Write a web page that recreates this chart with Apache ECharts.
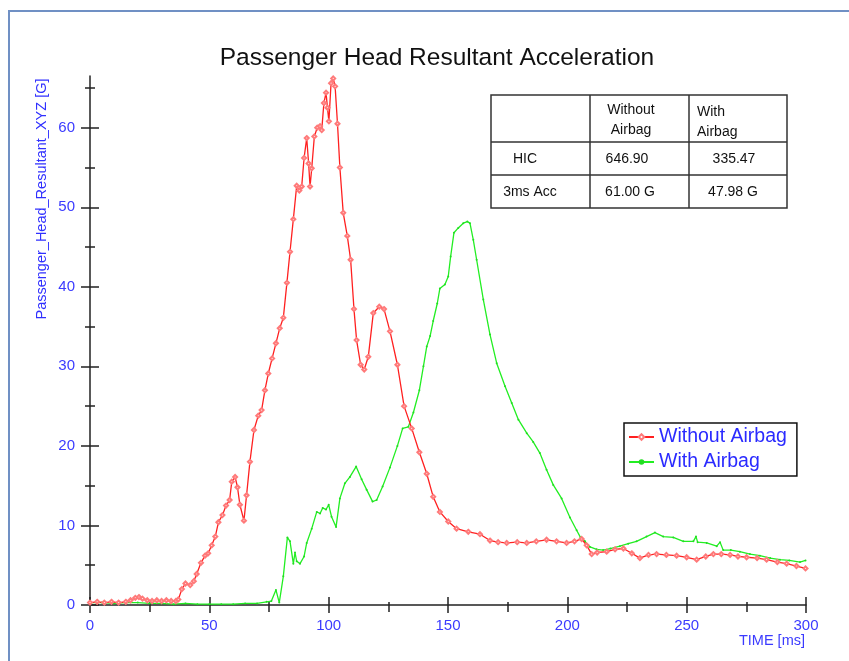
<!DOCTYPE html>
<html><head><meta charset="utf-8">
<script src="https://cdn.jsdelivr.net/npm/echarts@6/dist/echarts.min.js"></script>
<style>html,body{margin:0;padding:0;background:#fff}#c{width:849px;height:661px}</style>
</head><body><div id="c"></div>
<script>
const seriesNames = ['Without Airbag', 'With Airbag'];
const withoutAirbag = [[0,0.3],[3,0.4],[6,0.3],[9,0.4],[12,0.3],[15,0.4],[17,0.6],[19,0.9],[20.5,1.0],[22,0.8],[24,0.6],[26,0.5],[28,0.6],[30,0.5],[32,0.6],[34,0.5],[36,0.5],[37,0.7],[38.5,2.0],[40,2.7],[42,2.5],[43.5,3.0],[44.7,3.9],[46.5,5.3],[48.2,6.2],[49.5,6.5],[51,7.5],[52.5,8.6],[53.8,10.4],[55.5,11.3],[57,12.5],[58.5,13.2],[59.4,15.5],[60.8,16.1],[61.8,14.8],[62.8,12.6],[64.5,10.6],[65.6,13.8],[67,18.0],[68.7,22.0],[70.5,23.8],[71.9,24.5],[73.3,27.0],[74.7,29.1],[76.3,31.0],[77.9,32.9],[79.5,34.8],[81,36.1],[82.5,40.5],[83.8,44.4],[85.2,48.5],[86.6,52.7],[87.7,52.1],[88.7,52.6],[89.7,56.2],[90.8,58.7],[91.6,55.5],[92.2,52.6],[92.9,54.9],[94,58.9],[95.2,60.0],[96.4,60.2],[97.1,59.7],[98,63.1],[98.9,64.4],[99.5,62.5],[100.1,60.8],[101,65.6],[101.9,66.2],[102.7,65.2],[103.7,60.5],[104.7,55.0],[106.1,49.3],[107.8,46.4],[109.2,43.4],[110.6,37.2],[111.7,33.3],[113.4,30.2],[114.9,29.6],[116.6,31.2],[118.7,36.7],[121.2,37.5],[123.2,37.2],[125.7,34.4],[128.8,30.2],[131.6,25.0],[134.8,22.2],[138,19.2],[141.1,16.5],[143.8,13.6],[146.6,11.7],[150.1,10.5],[153.6,9.6],[158.5,9.2],[163.4,8.9],[167.6,8.1],[171,7.9],[174.6,7.8],[179,7.9],[183,7.8],[187,8.0],[191.3,8.2],[195.5,8.0],[199.7,7.8],[203,8.0],[206,8.3],[208.1,7.5],[210.2,6.4],[212.5,6.6],[216.5,6.7],[220,7.0],[223.5,7.1],[227,6.5],[230.4,5.9],[234,6.3],[237.4,6.4],[241.5,6.3],[245.8,6.2],[250,6.0],[254.2,5.7],[258,6.1],[261.2,6.4],[264.5,6.4],[268.2,6.3],[271.5,6.1],[275.1,6.0],[279.5,5.9],[283.5,5.7],[288,5.4],[291.9,5.2],[296,4.9],[299.8,4.6]];
const withAirbag = [[0,0.3],[5,0.3],[10,0.2],[15,0.3],[20,0.3],[25,0.2],[30,0.2],[35,0.1],[40,0.2],[45,0.1],[50,0.1],[55,0.1],[60,0.1],[65,0.2],[70,0.2],[74,0.4],[76,0.5],[77.9,1.9],[79.3,0.3],[81,3.6],[82.7,8.5],[83.8,8.0],[85.2,5.2],[85.9,6.6],[86.6,5.5],[88,5.2],[89.7,6.1],[90.8,7.8],[92.9,9.6],[95,11.7],[96.4,11.5],[97.5,12.2],[98.9,12.0],[100,12.6],[101.2,11.1],[103.1,9.8],[104.7,13.4],[106.8,15.3],[108.9,16.1],[111.5,17.4],[113.8,15.8],[115.9,14.5],[118.4,13.0],[120.1,13.2],[122.6,14.9],[125.7,17.3],[128.8,20.0],[131,22.2],[133.4,22.4],[135.5,24.2],[138,27.0],[139.7,30.0],[141.1,32.5],[142.5,33.8],[143.8,35.7],[145.5,37.9],[146.6,39.8],[148.7,40.3],[150.1,41.3],[151.1,43.8],[152.5,46.8],[154.3,47.4],[156.4,48.0],[158.1,48.2],[159.2,48.0],[160.6,45.9],[162,43.4],[164.8,38.4],[167.6,34.0],[170.4,30.4],[173.9,27.5],[176.7,25.4],[179.5,23.3],[183,21.6],[185.7,20.5],[188.5,19.1],[191.3,17.0],[194.1,15.1],[197.6,13.4],[201.1,11.0],[203.9,9.4],[205.5,8.5],[207.4,8.0],[209.5,7.3],[212.3,7.0],[215,6.9],[218,7.1],[222,7.4],[225.5,7.7],[229,8.0],[233.2,8.6],[236.7,9.1],[240.2,8.6],[244.4,8.5],[248.6,8.0],[252.8,8.0],[253.9,8.6],[254.6,7.9],[258.4,7.8],[262.6,7.4],[264,7.9],[265.3,6.9],[268.5,6.9],[272.3,6.7],[276.5,6.4],[280.7,6.2],[285,5.9],[289.1,5.7],[293,5.6],[297.5,5.4],[299.8,5.6]];
const xMajorTicks = [0, 50, 100, 150, 200, 250, 300];
const xMinorTicks = [25, 75, 125, 175, 225, 275];
const yMajorTicks = [0, 10, 20, 30, 40, 50, 60];
const yMinorTicks = [5, 15, 25, 35, 45, 55, 65];
const titleText = 'Passenger Head Resultant Acceleration';
const xAxisName = 'TIME [ms]';
const yAxisName = 'Passenger_Head_Resultant_XYZ [G]';
const tableHeader = ['Without\nAirbag', 'With\nAirbag'];
const tableRowLabels = ['HIC', '3ms Acc'];
const tableWithout = ['646.90', '61.00 G'];
const tableWith = ['335.47', '47.98 G'];

const FONT = '"Liberation Sans", Arial, Helvetica, sans-serif';
const AXIS_BLUE = '#3b3bff';
const AX_COLOR = '#222';

function xAx(ticks, inside, len, main) {
  return {
    type: 'value', min: 0, max: 300, position: 'bottom', offset: 0,
    axisLine: { show: main, onZero: false, lineStyle: { color: AX_COLOR, width: 1.5 } },
    axisTick: { show: true, inside: inside, length: len, customValues: ticks, lineStyle: { color: AX_COLOR, width: 1.5 } },
    axisLabel: main ? { show: true, customValues: xMajorTicks, color: AXIS_BLUE, fontSize: 15, fontFamily: FONT, margin: 13 } : { show: false },
    splitLine: { show: false }
  };
}
function yAx(ticks, inside, len, main) {
  return {
    type: 'value', min: 0, max: 66.5, position: 'left', offset: 0,
    axisLine: { show: main, onZero: false, lineStyle: { color: AX_COLOR, width: 1.5 } },
    axisTick: { show: true, inside: inside, length: len, customValues: ticks, lineStyle: { color: AX_COLOR, width: 1.5 } },
    axisLabel: main ? { show: true, customValues: yMajorTicks, color: AXIS_BLUE, fontSize: 15, fontFamily: FONT, margin: 15 } : { show: false },
    splitLine: { show: false }
  };
}

const colX = [491, 590, 689, 787];
const rowY = [95, 142, 175, 208];
const tStroke = { stroke: '#333', lineWidth: 1.5 };
const tFont = '14px ' + FONT;
const graphics = [
  { type: 'rect', shape: { x: 9, y: 11, width: 900, height: 700 }, style: { fill: 'none', stroke: '#7090c4', lineWidth: 2 }, z: 0 },
  { type: 'rect', shape: { x: colX[0], y: rowY[0], width: colX[3] - colX[0], height: rowY[3] - rowY[0] }, style: Object.assign({ fill: '#fff' }, tStroke) },
  { type: 'line', shape: { x1: colX[1], y1: rowY[0], x2: colX[1], y2: rowY[3] }, style: tStroke },
  { type: 'line', shape: { x1: colX[2], y1: rowY[0], x2: colX[2], y2: rowY[3] }, style: tStroke },
  { type: 'line', shape: { x1: colX[0], y1: rowY[1], x2: colX[3], y2: rowY[1] }, style: tStroke },
  { type: 'line', shape: { x1: colX[0], y1: rowY[2], x2: colX[3], y2: rowY[2] }, style: tStroke },
  { type: 'text', x: 631, y: 120, style: { text: tableHeader[0], font: tFont, fill: '#111', align: 'center', verticalAlign: 'middle', lineHeight: 19.5 } },
  { type: 'text', x: 697, y: 122, style: { text: tableHeader[1], font: tFont, fill: '#111', align: 'left', verticalAlign: 'middle', lineHeight: 19.5 } },
  { type: 'text', x: 525, y: 159, style: { text: tableRowLabels[0], font: tFont, fill: '#111', align: 'center', verticalAlign: 'middle' } },
  { type: 'text', x: 530, y: 192, style: { text: tableRowLabels[1], font: tFont, fill: '#111', align: 'center', verticalAlign: 'middle' } },
  { type: 'text', x: 627, y: 159, style: { text: tableWithout[0], font: tFont, fill: '#111', align: 'center', verticalAlign: 'middle' } },
  { type: 'text', x: 630, y: 192, style: { text: tableWithout[1], font: tFont, fill: '#111', align: 'center', verticalAlign: 'middle' } },
  { type: 'text', x: 734, y: 159, style: { text: tableWith[0], font: tFont, fill: '#111', align: 'center', verticalAlign: 'middle' } },
  { type: 'text', x: 733, y: 192, style: { text: tableWith[1], font: tFont, fill: '#111', align: 'center', verticalAlign: 'middle' } },
  { type: 'text', x: 42, y: 199, rotation: Math.PI / 2, style: { text: yAxisName, font: '14.5px ' + FONT, fill: '#3030ff', align: 'center', verticalAlign: 'middle' } },
  { type: 'text', x: 805, y: 641, style: { text: xAxisName, font: '14.5px ' + FONT, fill: AXIS_BLUE, align: 'right', verticalAlign: 'middle' } }
];

const chart = echarts.init(document.getElementById('c'), null, { renderer: 'canvas' });
chart.setOption({
  animation: false,
  backgroundColor: '#fff',
  title: { text: titleText, left: 432, top: 41, textAlign: 'center', textStyle: { fontFamily: FONT, fontSize: 24.5, fontWeight: 'normal', color: '#111' } },
  grid: { left: 90, right: 43, top: 76, bottom: 56, containLabel: false },
  xAxis: [xAx(xMajorTicks, false, 8, true), xAx(xMajorTicks, true, 8, false), xAx(xMinorTicks, false, 7, false), xAx(xMinorTicks, true, 3, false)],
  yAxis: [yAx(yMajorTicks, false, 9, true), yAx(yMajorTicks, true, 9, false), yAx(yMinorTicks, false, 5, false), yAx(yMinorTicks, true, 5, false)],
  legend: {
    orient: 'vertical', left: 624, top: 423, itemWidth: 25, itemHeight: 7, itemGap: 5,
    padding: [4, 10, 4, 4], borderColor: '#111', borderWidth: 1.5, backgroundColor: '#fff',
    textStyle: { color: '#2a2aff', fontSize: 19.5, fontFamily: FONT },
    data: seriesNames
  },
  graphic: graphics,
  series: [
    { name: seriesNames[0], type: 'line', data: withoutAirbag, xAxisIndex: 0, yAxisIndex: 0,
      symbol: 'emptyDiamond', symbolSize: 4, showSymbol: true, showAllSymbol: true,
      lineStyle: { color: '#ff2020', width: 1.3 }, itemStyle: { color: '#ff7a7a', borderWidth: 1 }, z: 3 },
    { name: seriesNames[1], type: 'line', data: withAirbag, xAxisIndex: 0, yAxisIndex: 0,
      symbol: 'circle', symbolSize: 2, showSymbol: true, showAllSymbol: true,
      lineStyle: { color: '#22ee22', width: 1.3 }, itemStyle: { color: '#22dd22' }, z: 2 }
  ]
});
</script></body></html>
